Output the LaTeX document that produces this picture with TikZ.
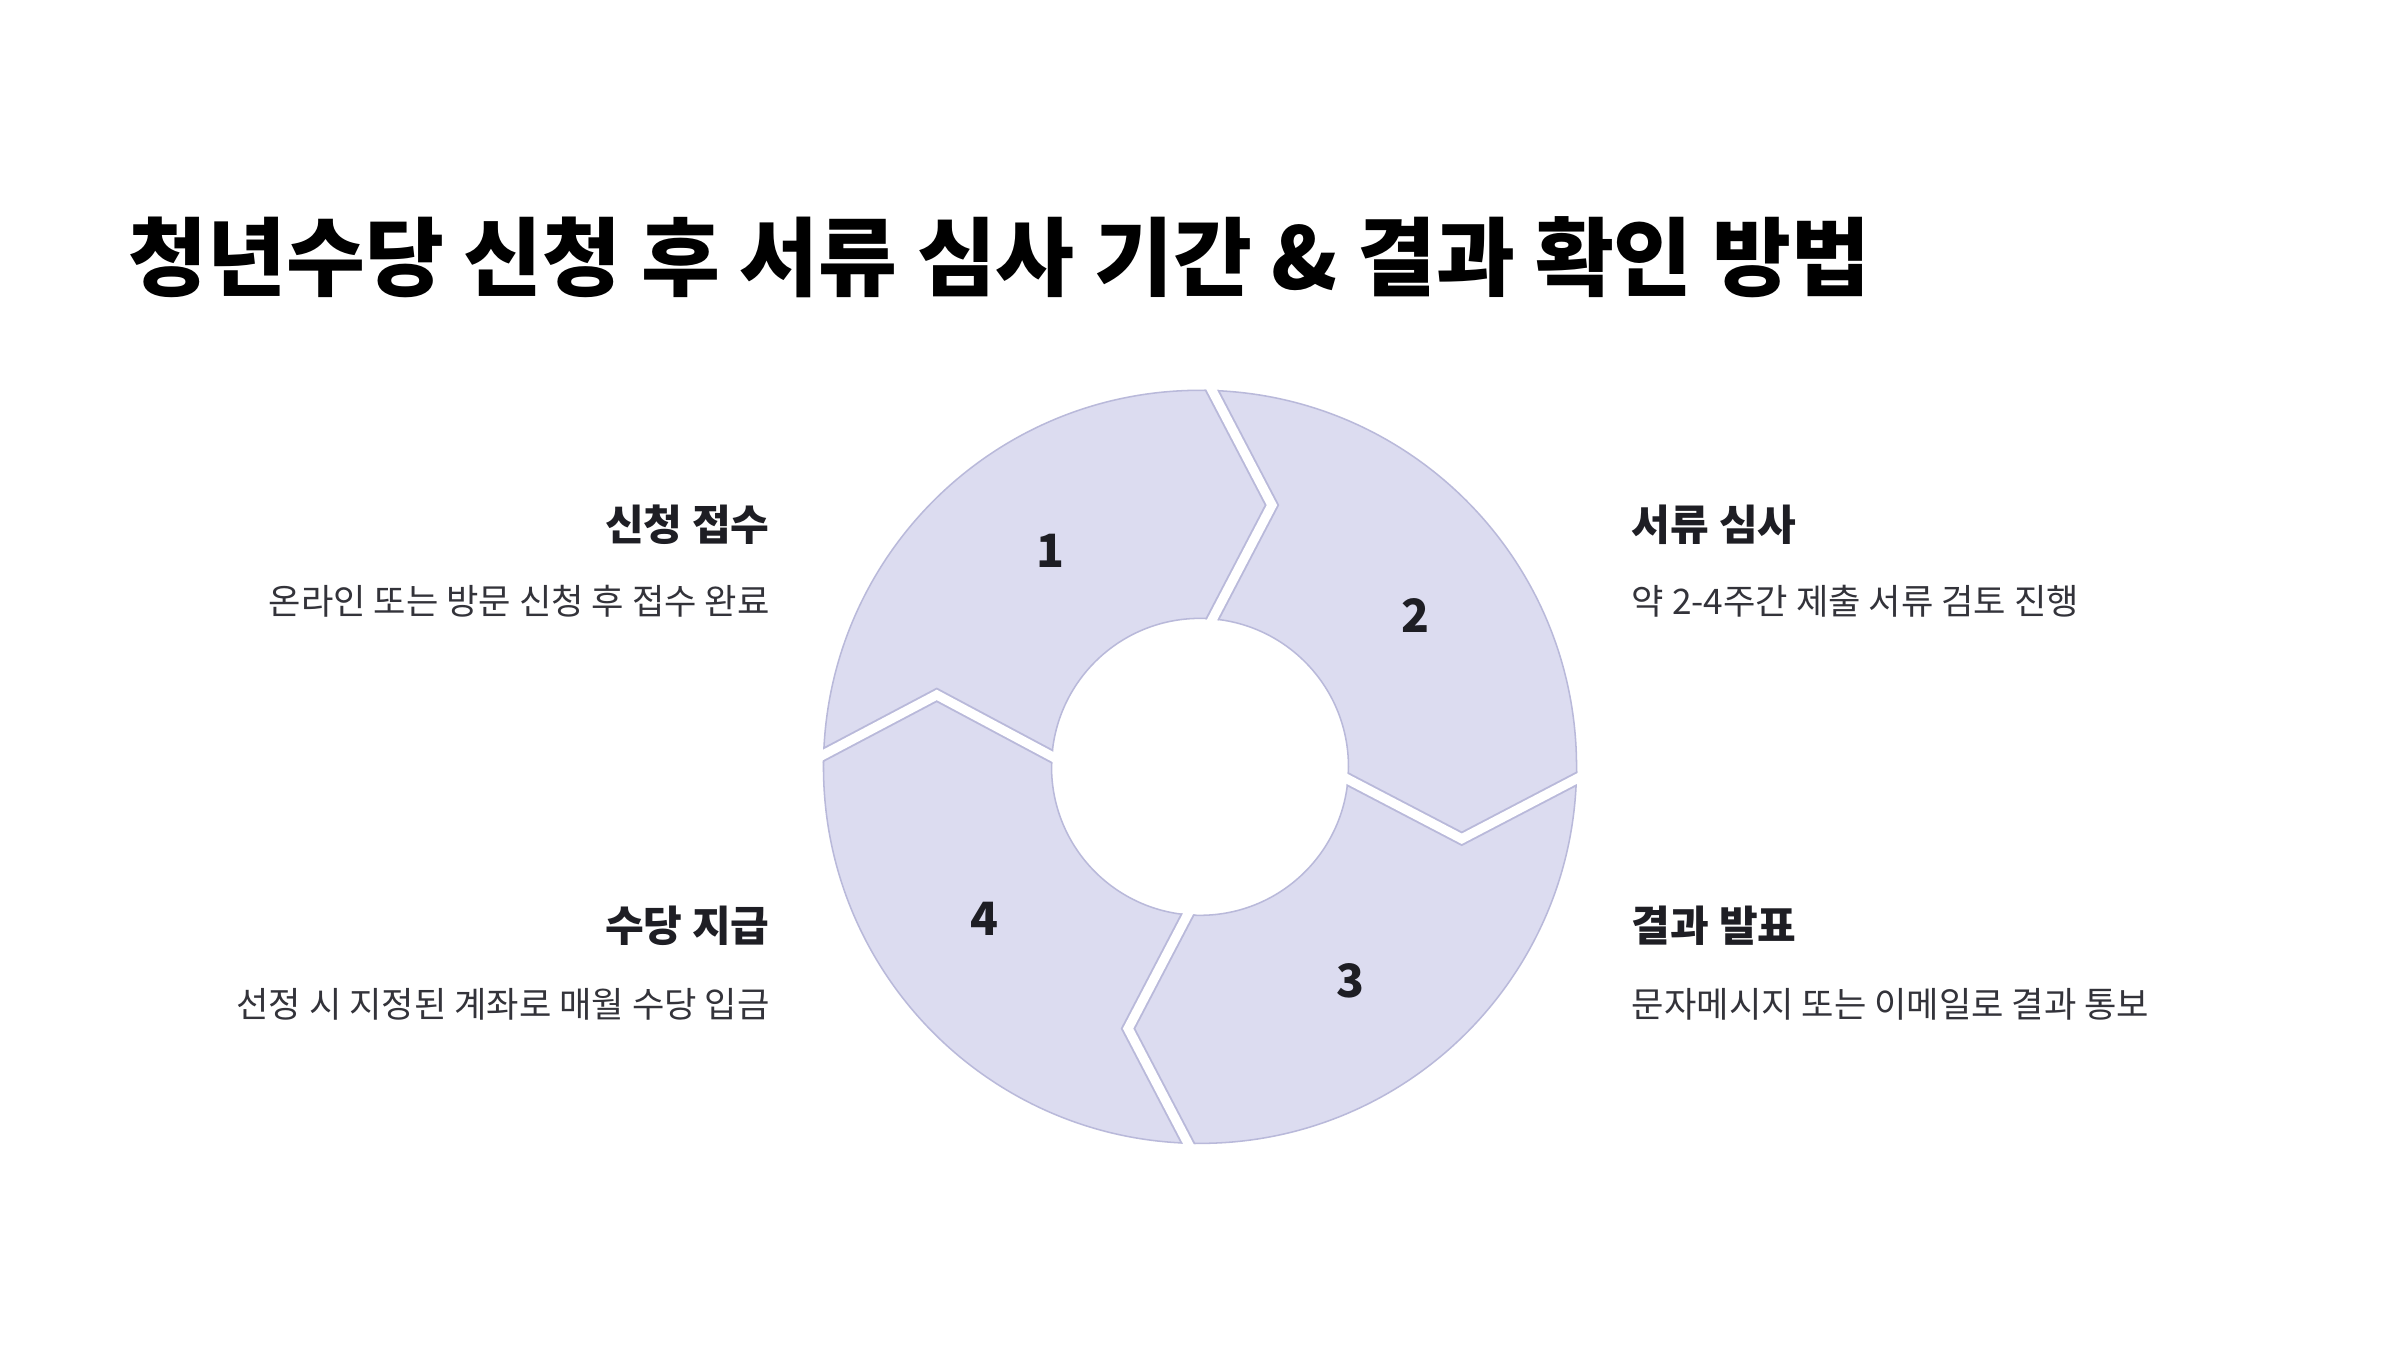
\documentclass[tikz,border=0pt]{standalone}
\usepackage{fontspec}
\setmainfont{Noto Sans CJK KR}
\definecolor{segfill}{HTML}{DCDCF0}
\definecolor{segline}{HTML}{B9B9DA}
\definecolor{txt}{HTML}{1E1E24}
\definecolor{desc}{HTML}{33333A}
\tikzset{
  num/.style={font=\fontsize{30}{34}\selectfont\bfseries, text=txt},
  head/.style={font=\fontsize{27.5}{32}\selectfont\bfseries, text=txt, inner sep=0},
  body/.style={font=\fontsize{23}{27}\selectfont, text=desc, inner sep=0},
  sepout/.style={segline, line width=8.5pt, line join=miter},
  sepin/.style={white, line width=6pt, line join=miter}
}
\begin{document}
\begin{tikzpicture}[x=1pt,y=-1pt]
\useasboundingbox[fill=white] (0,0) rectangle (1568,882);
\node[anchor=west, inner sep=0, font=\fontsize{56}{62}\selectfont\bfseries, text=black] (title) at (84,168) {청년수당 신청 후 서류 심사 기간 \& 결과 확인 방법};
\coordinate (c) at (784,501);
\fill[segfill, even odd rule] (c) circle (246) (c) circle (97);
\draw[segline, line width=1pt] (c) circle (246) (c) circle (97);
\begin{scope}[even odd rule]
\clip (c) circle (246.5) (c) circle (96.5);
\foreach \p in {{(784,240) -- (831,330) -- (784,420)},
                {(1045,501) -- (955,548) -- (865,501)},
                {(784,762) -- (737,672) -- (784,582)},
                {(523,501) -- (612,454) -- (700,501)}}{
  \draw[sepout] \p;
}
\end{scope}
\foreach \p in {{(784,240) -- (831,330) -- (784,420)},
                {(1045,501) -- (955,548) -- (865,501)},
                {(784,762) -- (737,672) -- (784,582)},
                {(523,501) -- (612,454) -- (700,501)}}{
  \begin{scope}
  \clip (c) circle (252);
  \draw[sepin] \p;
  \end{scope}
}
\node[num] (n1) at (686,360) {1};
\node[num] (n2) at (925,402) {2};
\node[num] (n3) at (882,641) {3};
\node[num] (n4) at (643,600) {4};
\node[head, anchor=east] (h1) at (503,343) {신청 접수};
\node[body, anchor=east] (b1) at (503,393) {온라인 또는 방문 신청 후 접수 완료};
\node[head, anchor=east] (h4) at (503,605) {수당 지급};
\node[body, anchor=east] (b4) at (503,656) {선정 시 지정된 계좌로 매월 수당 입금};
\node[head, anchor=west] (h2) at (1066,343) {서류 심사};
\node[body, anchor=west] (b2) at (1066,393) {약 2-4주간 제출 서류 검토 진행};
\node[head, anchor=west] (h3) at (1066,605) {결과 발표};
\node[body, anchor=west] (b3) at (1066,656) {문자메시지 또는 이메일로 결과 통보};
\end{tikzpicture}
\end{document}
